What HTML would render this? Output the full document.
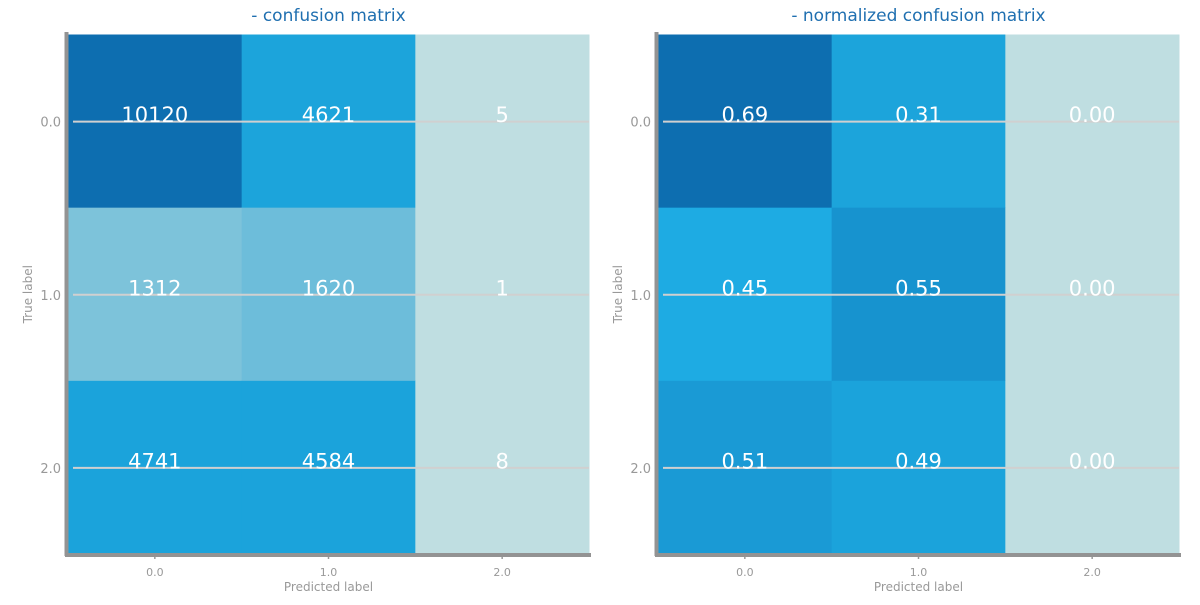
<!DOCTYPE html>
<html><head><meta charset="utf-8"><style>
body{margin:0;background:#fff;width:1200px;height:600px;overflow:hidden}
svg{font-family:"DejaVu Sans","Liberation Sans",sans-serif}
</style></head><body>
<svg id="c" width="1200" height="600"></svg>
<script>
const classes=["0.0","1.0","2.0"];
const countValues=[[10120,4621,5],[1312,1620,1],[4741,4584,8]];
const countColors=[["#0d6eb0","#1ca4db","#bfdee1"],["#7dc3da","#6dbdda","#bfdee1"],["#1ba3db","#1ba3db","#bfdee1"]];
const normValues=[["0.69","0.31","0.00"],["0.45","0.55","0.00"],["0.51","0.49","0.00"]];
const normColors=[["#0d6eb0","#1ca4db","#bfdee1"],["#1eabe3","#1793cf","#bfdee1"],["#1a9ad5","#1ba3db","#bfdee1"]];
const svg=document.getElementById('c');
const NS="http://www.w3.org/2000/svg";
function mk(t,a,p){const e=document.createElementNS(NS,t);for(const k in a)e.setAttribute(k,a[k]);(p||svg).appendChild(e);return e;}
function panel(x0,title,vals,cols,name){
  const g=mk('g',{});
  
  
  const y0=34.5,w=521,h=519.5,n=classes.length,cw=w/n,ch=h/n;
  const xs=i=>x0+i*cw, ys=i=>y0+i*ch;
  for(let r=0;r<n;r++)for(let c=0;c<n;c++){
    const rc=mk('rect',{x:xs(c),y:ys(r),width:cw+0.5,height:ch+0.5,fill:cols[r][c]},g);
    
    
  }
  for(let r=0;r<n;r++){
    const yc=ys(r)+ch/2+0.5;
    const gl=mk('line',{x1:x0+5,x2:x0+w,y1:yc,y2:yc,stroke:"#d0d0d0","stroke-width":2},g);
    
    
    const t=mk('text',{x:x0-7,y:yc+5,"text-anchor":"end","font-size":13,fill:"#999"},g);t.textContent=classes[r];
    
    
  }
  for(let r=0;r<n;r++)for(let c=0;c<n;c++){
    const t=mk('text',{x:xs(c)+cw/2,y:ys(r)+ch/2+1,"text-anchor":"middle","font-size":21,fill:"#fff"},g);
    t.textContent=vals[r][c];
    
    
  }
  for(let c=0;c<n;c++){
    const xc=xs(c)+cw/2;
    mk('line',{x1:xc,x2:xc,y1:y0+h,y2:y0+h+5,stroke:"#999","stroke-width":1.5},g);
    const t=mk('text',{x:xc,y:576,"text-anchor":"middle","font-size":11,fill:"#999"},g);t.textContent=classes[c];
    
    
  }
  mk('line',{x1:x0-1.5,x2:x0-1.5,y1:32,y2:556,stroke:"#939393","stroke-width":4},g);
  mk('line',{x1:x0-3,x2:x0+w+2,y1:y0+h+1,y2:y0+h+1,stroke:"#939393","stroke-width":4},g);
  const tt=mk('text',{x:x0+w/2,y:21,"text-anchor":"middle","font-size":17,fill:"#1f6fb0"},g);tt.textContent=title;
  
  
  const xl=mk('text',{x:x0+w/2,y:591,"text-anchor":"middle","font-size":12,fill:"#999"},g);xl.textContent="Predicted label";
  
  
  const yl=mk('text',{x:0,y:0,"text-anchor":"middle","font-size":12,fill:"#999",transform:`translate(${x0-36},${y0+h/2}) rotate(-90)`},g);yl.textContent="True label";
  
  
}
panel(68,"- confusion matrix",countValues,countColors,"confusion-matrix-panel");
panel(658,"- normalized confusion matrix",normValues,normColors,"normalized-confusion-matrix-panel");
</script>
</body></html>
